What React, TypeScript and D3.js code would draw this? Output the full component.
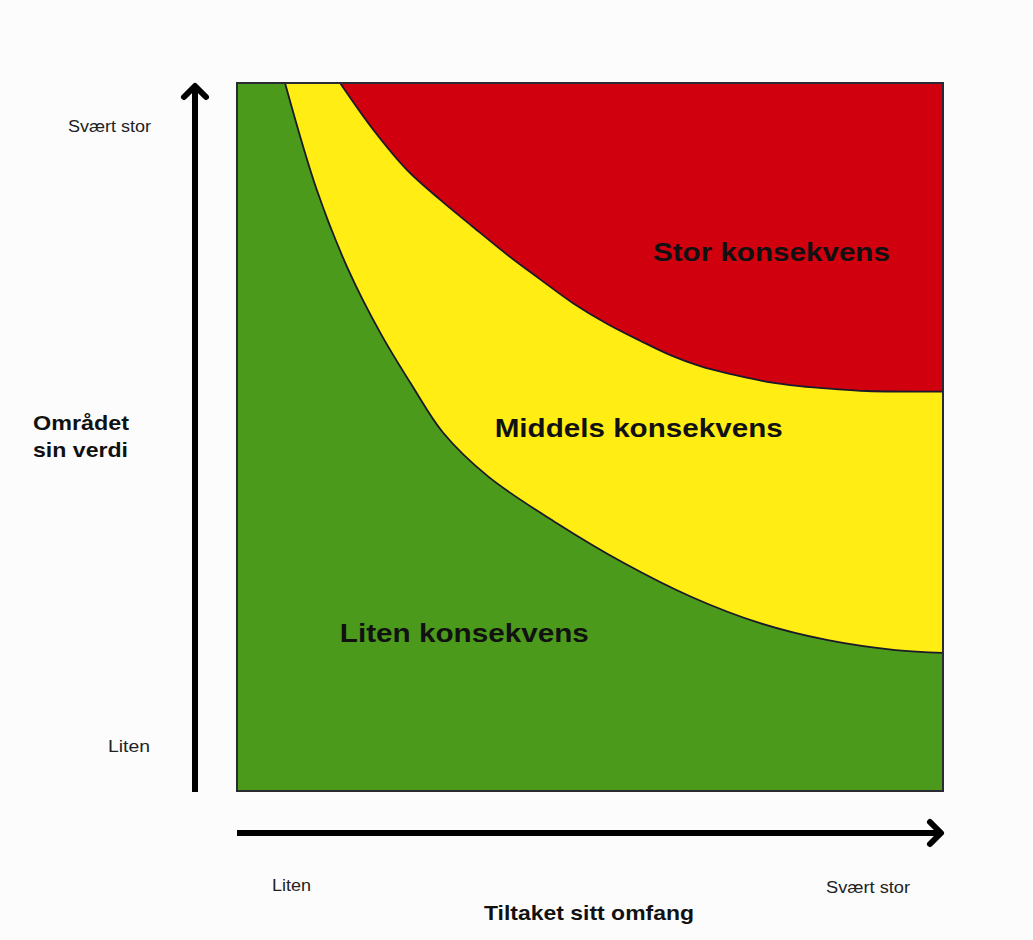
import React from "react";
import * as d3 from "d3";

// Boundary between "Liten" and "Middels" (x = omfang 0-100, y = verdi 0-100)
const lowBoundaryX = [6.8, 11.3, 15.6, 20.3, 24.9, 29.2, 35.6, 45.2, 54.8, 64.4, 74.1, 83.7, 93.3, 100];
const lowBoundaryY = [100, 84.9, 74.0, 64.7, 57.1, 50.6, 44.4, 37.9, 32.2, 27.4, 23.7, 21.3, 19.9, 19.5];

// Boundary between "Middels" and "Stor"
const highBoundaryX = [14.6, 19.3, 24.1, 28.8, 33.4, 38.2, 42.9, 47.6, 52.4, 57.1, 61.3, 65.6, 70.3, 75.1, 79.7, 84.4, 89.2, 100];
const highBoundaryY = [100, 93.4, 87.7, 83.5, 79.7, 75.8, 72.3, 68.9, 66.0, 63.6, 61.6, 60.0, 58.8, 57.8, 57.2, 56.8, 56.5, 56.4];

const zoneLabels = ["Liten konsekvens", "Middels konsekvens", "Stor konsekvens"];
const zoneLabelX = [32.2, 56.9, 75.7];
const zoneLabelY = [21.0, 50.0, 74.9];

const axisTickLabels = ["Liten", "Svært stor"];
const yAxisTitle = ["Området", "sin verdi"];
const xAxisTitle = "Tiltaket sitt omfang";

const GREEN = "#4b9a1b";
const YELLOW = "#ffed14";
const RED = "#d0000f";

export default function App() {
  const W = 1033, H = 940;
  const left = 237, right = 943, top = 83, bottom = 791;
  const x = d3.scaleLinear().domain([0, 100]).range([left, right]);
  const y = d3.scaleLinear().domain([0, 100]).range([bottom, top]);

  const low: [number, number][] = lowBoundaryX.map((v, i) => [v, lowBoundaryY[i]]);
  const high: [number, number][] = highBoundaryX.map((v, i) => [v, highBoundaryY[i]]);

  const curve = d3.curveCatmullRom.alpha(0.5);
  const area = d3.area<[number, number]>()
    .x(d => x(d[0]))
    .y0(y(100))
    .y1(d => y(d[1]))
    .curve(curve);
  const line = d3.line<[number, number]>()
    .x(d => x(d[0]))
    .y(d => y(d[1]))
    .curve(curve);

  const font = "Liberation Sans, Arial, Helvetica, sans-serif";
  const zoneLen = [249, 288, 237];

  const vx = 195;
  const hy = 833;

  return (
    <svg width={W} height={H} style={{ position: "absolute", left: 0, top: 0, background: "#fcfcfc" }}>
      <rect x={0} y={0} width={W} height={H} fill="#fcfcfc" />
      <defs>
        <clipPath id="plotClip">
          <rect x={left} y={top} width={right - left} height={bottom - top} />
        </clipPath>
      </defs>
      <g clipPath="url(#plotClip)">
        <rect x={left} y={top} width={right - left} height={bottom - top} fill={GREEN} />
        <path d={area(low) || ""} fill={YELLOW} />
        <path d={area(high) || ""} fill={RED} />
        <path d={line(low) || ""} fill="none" stroke="#1a1a2a" strokeWidth={1.8} />
        <path d={line(high) || ""} fill="none" stroke="#1a1a2a" strokeWidth={1.8} />
      </g>
      <rect x={left} y={top} width={right - left} height={bottom - top} fill="none" stroke="#2a2a33" strokeWidth={2} />

      {zoneLabels.map((t, i) => (
        <text key={t} x={x(zoneLabelX[i])} y={y(zoneLabelY[i])} textAnchor="middle"
          fontFamily={font} fontWeight="bold" fontSize={26} fill="#111"
          textLength={zoneLen[i]} lengthAdjust="spacingAndGlyphs">{t}</text>
      ))}

      {/* vertical arrow */}
      <line x1={vx} y1={bottom + 1} x2={vx} y2={top + 3} stroke="#000" strokeWidth={6} />
      <path d={`M${vx - 11},${top + 14} L${vx},${top + 3} L${vx + 11},${top + 14}`} fill="none" stroke="#000" strokeWidth={6} strokeLinecap="round" strokeLinejoin="round" />

      {/* horizontal arrow */}
      <line x1={left} y1={hy} x2={right - 2} y2={hy} stroke="#000" strokeWidth={6} />
      <path d={`M${right - 13},${hy - 11} L${right - 2},${hy} L${right - 13},${hy + 11}`} fill="none" stroke="#000" strokeWidth={6} strokeLinecap="round" strokeLinejoin="round" />

      {/* y-axis tick labels */}
      <text x={68} y={132} fontFamily={font} fontSize={16} fill="#222" textLength={83} lengthAdjust="spacingAndGlyphs">{axisTickLabels[1]}</text>
      <text x={108} y={752} fontFamily={font} fontSize={16} fill="#222" textLength={42} lengthAdjust="spacingAndGlyphs">{axisTickLabels[0]}</text>

      {/* x-axis tick labels */}
      <text x={272} y={891} fontFamily={font} fontSize={16} fill="#222" textLength={39} lengthAdjust="spacingAndGlyphs">{axisTickLabels[0]}</text>
      <text x={826} y={893} fontFamily={font} fontSize={16} fill="#222" textLength={84} lengthAdjust="spacingAndGlyphs">{axisTickLabels[1]}</text>

      {/* axis titles */}
      <text x={33} y={430} fontFamily={font} fontWeight="bold" fontSize={21} fill="#111" textLength={96} lengthAdjust="spacingAndGlyphs">{yAxisTitle[0]}</text>
      <text x={33} y={457} fontFamily={font} fontWeight="bold" fontSize={21} fill="#111" textLength={95} lengthAdjust="spacingAndGlyphs">{yAxisTitle[1]}</text>
      <text x={484} y={920} fontFamily={font} fontWeight="bold" fontSize={21} fill="#111" textLength={210} lengthAdjust="spacingAndGlyphs">{xAxisTitle}</text>
    </svg>
  );
}
